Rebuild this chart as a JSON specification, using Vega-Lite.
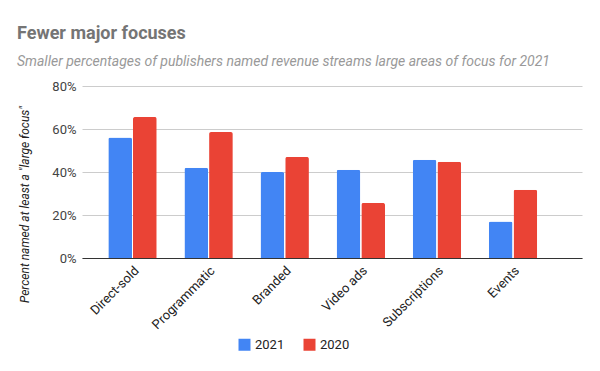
{
  "$schema": "https://vega.github.io/schema/vega-lite/v6.json",
  "width": 500,
  "height": 172,
  "autosize": "none",
  "padding": {"left": 82, "top": 86, "right": 18, "bottom": 113},
  "background": "white",
  "config": {
    "font": "Roboto",
    "view": {"stroke": null}
  },
  "title": {
    "text": "Fewer major focuses",
    "subtitle": "Smaller percentages of publishers named revenue streams large areas of focus for 2021",
    "anchor": "start",
    "frame": "group",
    "dx": -65,
    "dy": 11,
    "offset": 22,
    "font": "Roboto",
    "fontSize": 18,
    "fontWeight": "bold",
    "color": "#757575",
    "subtitleFont": "Roboto",
    "subtitleFontSize": 14,
    "subtitleFontStyle": "italic",
    "subtitleColor": "#999999",
    "subtitlePadding": 12
  },
  "data": {
    "values": [
      {"stream": "Direct-sold", "year": "2021", "value": 0.56},
      {"stream": "Direct-sold", "year": "2020", "value": 0.656},
      {"stream": "Programmatic", "year": "2021", "value": 0.42},
      {"stream": "Programmatic", "year": "2020", "value": 0.586},
      {"stream": "Branded", "year": "2021", "value": 0.40},
      {"stream": "Branded", "year": "2020", "value": 0.47},
      {"stream": "Video ads", "year": "2021", "value": 0.41},
      {"stream": "Video ads", "year": "2020", "value": 0.256},
      {"stream": "Subscriptions", "year": "2021", "value": 0.457},
      {"stream": "Subscriptions", "year": "2020", "value": 0.448},
      {"stream": "Events", "year": "2021", "value": 0.17},
      {"stream": "Events", "year": "2020", "value": 0.318}
    ]
  },
  "mark": {"type": "bar", "cornerRadiusTopLeft": 2, "cornerRadiusTopRight": 2},
  "encoding": {
    "x": {
      "field": "stream",
      "type": "nominal",
      "sort": null,
      "scale": {"paddingInner": 0.364, "paddingOuter": 0.467, "align": 0.37},
      "axis": {
        "title": null,
        "labelAngle": -45,
        "labelFontSize": 13,
        "labelColor": "#222222",
        "labelFont": "Roboto",
        "ticks": false,
        "domainColor": "#333333",
        "domainWidth": 1,
        "labelPadding": 6
      }
    },
    "xOffset": {
      "field": "year",
      "type": "nominal",
      "sort": ["2021", "2020"],
      "scale": {"paddingInner": 0.04}
    },
    "y": {
      "field": "value",
      "type": "quantitative",
      "scale": {"domain": [0, 0.8], "nice": false},
      "axis": {
        "format": ".0%",
        "values": [0, 0.2, 0.4, 0.6, 0.8],
        "labelOverlap": false,
        "title": "Percent named at least a \"large focus\"",
        "titleFont": "Roboto",
        "titleFontSize": 12,
        "titleFontStyle": "italic",
        "titleFontWeight": "normal",
        "titleColor": "#222222",
        "titleX": -51,
        "titleY": 118,
        "labelFontSize": 13,
        "labelColor": "#444444",
        "labelFont": "Roboto",
        "labelPadding": 6,
        "domain": false,
        "ticks": false,
        "gridColor": "#cccccc",
        "gridWidth": 1
      }
    },
    "color": {
      "field": "year",
      "type": "nominal",
      "sort": ["2021", "2020"],
      "scale": {"domain": ["2021", "2020"], "range": ["#4285F4", "#EA4335"]},
      "legend": {
        "title": null,
        "orient": "none",
        "legendX": 156,
        "legendY": 252,
        "direction": "horizontal",
        "symbolType": "square",
        "symbolSize": 144,
        "symbolStrokeWidth": 0,
        "symbolOpacity": 1,
        "labelFontSize": 13,
        "labelColor": "#222222",
        "labelFont": "Roboto",
        "columnPadding": 18
      }
    }
  }
}
